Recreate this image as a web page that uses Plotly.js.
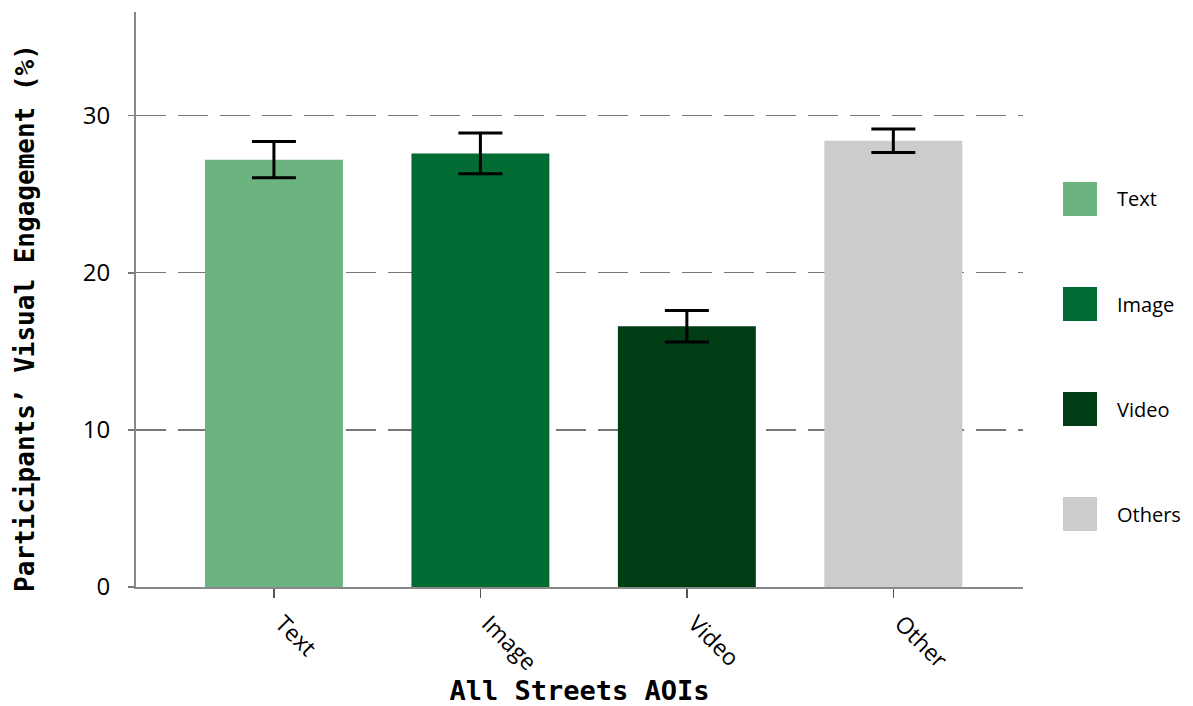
<!DOCTYPE html>
<html>
<head>
<meta charset="utf-8">
<script src="https://cdn.plot.ly/plotly-3.0.1.min.js"></script>
<style>html,body{margin:0;padding:0;background:#fff;}#chart{width:1193px;height:706px;}</style>
</head>
<body>
<div id="chart"></div>
<script>
var categories = ["Text", "Image", "Video", "Other"];
var values = [27.2, 27.6, 16.6, 28.4];
var errors = [1.15, 1.3, 1.0, 0.75];
var legendLabels = ["Text", "Image", "Video", "Others"];
var colors = ["#6bb47f", "#006b33", "#003d15", "#cccccc"];
var yTicks = [0, 10, 20, 30];
var xTitle = "All Streets AOIs";
var yTitle = "Participants\u2019 Visual Engagement (%)";

var trace = {
  type: "bar",
  x: categories,
  y: values,
  width: 0.668,
  marker: {color: colors, line: {width: 0}},
  error_y: {type: "data", array: errors, visible: true, color: "#000", thickness: 3, width: 22},
  showlegend: false,
  hoverinfo: "x+y"
};

var shapes = [], annotations = [];
var swatchTop = [182, 287, 392, 497];
for (var i = 0; i < legendLabels.length; i++) {
  var y0 = (587 - (swatchTop[i] + 34)) / 575, y1 = (587 - swatchTop[i]) / 575;
  shapes.push({type: "rect", xref: "paper", yref: "paper", x0: (1063 - 136) / 887, x1: (1097 - 136) / 887,
    y0: y0, y1: y1, fillcolor: colors[i], line: {width: 0}});
  annotations.push({xref: "paper", yref: "paper", x: (1115 - 136) / 887, y: (y0 + y1) / 2, xanchor: "left", yanchor: "middle",
    text: legendLabels[i], showarrow: false, font: {family: "Open Sans, DejaVu Sans, sans-serif", size: 20, color: "#000"}});
}
annotations.push({xref: "paper", yref: "paper", x: (25 - 136) / 887, y: (587 - 318) / 575, xanchor: "center", yanchor: "middle",
  textangle: -90, text: yTitle, showarrow: false,
  font: {family: "DejaVu Sans Mono, monospace", size: 26, color: "#000", weight: "bold"}});

var layout = {
  width: 1193, height: 706,
  margin: {l: 136, r: 170, t: 12, b: 119},
  paper_bgcolor: "#fff", plot_bgcolor: "#fff",
  xaxis: {
    range: [-0.668, 3.628],
    showline: true, linecolor: "#888", linewidth: 2,
    ticks: "outside", ticklen: 9, tickcolor: "#555", tickwidth: 1.5,
    tickangle: 45,
    ticklabelstandoff: 3,
    ticklabelshift: 8,
    tickfont: {family: "Open Sans, DejaVu Sans, sans-serif", size: 23, color: "#000"},
    showgrid: false, zeroline: false,
    title: {text: xTitle, standoff: 14, font: {family: "DejaVu Sans Mono, monospace", size: 27, color: "#000", weight: "bold"}}
  },
  yaxis: {
    range: [0, 36.6],
    tickvals: yTicks,
    showline: true, linecolor: "#888", linewidth: 2,
    ticks: "outside", ticklen: 6, tickcolor: "#777", tickwidth: 1.5,
    ticklabelstandoff: 13,
    tickfont: {family: "Open Sans, DejaVu Sans, sans-serif", size: 24, color: "#000"},
    showgrid: true, gridcolor: "#777", gridwidth: 1.2, griddash: "30px,12px",
    zeroline: false
  },
  shapes: shapes,
  annotations: annotations
};

Plotly.newPlot("chart", [trace], layout, {displayModeBar: false, staticPlot: true});
</script>
</body>
</html>
